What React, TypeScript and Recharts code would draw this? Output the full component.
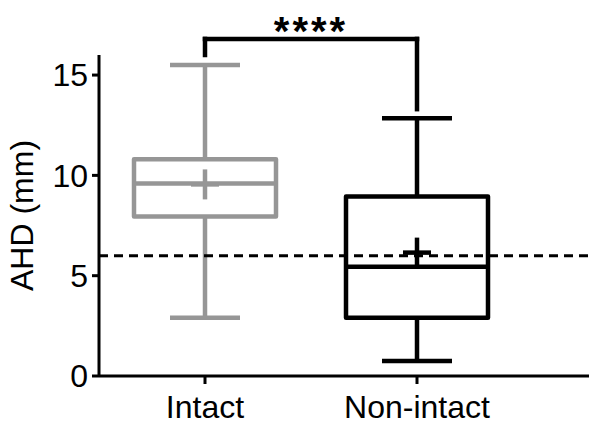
import { Bar, ComposedChart, ReferenceLine, XAxis, YAxis } from "recharts";

const groups = ["Intact", "Non-intact"];
const whiskerMin = [2.9, 0.75];
const q1 = [7.95, 2.9];
const medians = [9.6, 5.45];
const q3 = [10.8, 8.95];
const whiskerMax = [15.5, 12.85];
const means = [9.55, 6.15];
const yTicks = [0, 5, 10, 15];
const cutoff = 6;
const bracketY = 16.8;
const bracketLeftEnd = 16.0;
const bracketRightEnd = 13.3;
const sigLabel = "****";

const boxColors = ["#969696", "#000000"];
const font = "'Liberation Sans', Arial, sans-serif";

const data = groups.map((name, i) => ({
  name,
  range: [whiskerMin[i], whiskerMax[i]],
  min: whiskerMin[i],
  q1: q1[i],
  median: medians[i],
  q3: q3[i],
  max: whiskerMax[i],
  mean: means[i],
  color: boxColors[i],
}));

function BoxShape(props: any) {
  const { x, y, width, height, payload } = props;
  const top = Math.min(y, y + height);
  const bottom = Math.max(y, y + height);
  const ppu = (bottom - top) / (payload.max - payload.min);
  const toY = (v: number) => top + (payload.max - v) * ppu;
  const cx = x + width / 2;
  const sw = 4.5;
  const capHalf = 35;
  const c = payload.color;
  const yMax = toY(payload.max);
  const yMin = toY(payload.min);
  const yQ1 = toY(payload.q1);
  const yQ3 = toY(payload.q3);
  const yMed = toY(payload.median);
  const yMean = toY(payload.mean);
  return (
    <g stroke={c} strokeWidth={sw} fill="none">
      <line x1={cx} x2={cx} y1={yMax} y2={yQ3} />
      <line x1={cx} x2={cx} y1={yQ1} y2={yMin} />
      <line x1={cx - capHalf} x2={cx + capHalf} y1={yMax} y2={yMax} />
      <line x1={cx - capHalf} x2={cx + capHalf} y1={yMin} y2={yMin} />
      <rect x={x} y={yQ3} width={width} height={yQ1 - yQ3} strokeLinejoin="round" />
      <line x1={x} x2={x + width} y1={yMed} y2={yMed} />
      <line x1={cx - 14} x2={cx + 14} y1={yMean} y2={yMean} />
      <line x1={cx} x2={cx} y1={yMean - 15} y2={yMean + 15} />
    </g>
  );
}

export default function App() {
  return (
    <div style={{ position: "absolute", left: 0, top: 0, background: "#fff" }}>
      <ComposedChart
        width={589}
        height={424}
        data={data}
        margin={{ top: 55, right: 0, bottom: 0, left: 0 }}
        barSize={142}
      >
        <XAxis
          dataKey="name"
          height={48}
          padding={{ left: 0, right: 66 }}
          tickSize={8}
          tickMargin={11}
          axisLine={{ stroke: "#000", strokeWidth: 3 }}
          tickLine={{ stroke: "#000", strokeWidth: 3 }}
          tick={{ fontSize: 32, fill: "#000", fontFamily: font }}
        />
        <YAxis
          type="number"
          domain={[0, 16]}
          ticks={yTicks}
          width={99}
          tickSize={7}
          tickMargin={4}
          axisLine={{ stroke: "#000", strokeWidth: 3 }}
          tickLine={{ stroke: "#000", strokeWidth: 3 }}
          tick={{ fontSize: 32, fill: "#000", fontFamily: font }}
          label={{
            value: "AHD (mm)",
            angle: -90,
            position: "insideLeft",
            offset: 22,
            style: { textAnchor: "middle", fontSize: 32, fill: "#000", fontFamily: font },
          }}
        />
        <ReferenceLine y={cutoff} stroke="#000" strokeWidth={3} strokeDasharray="9 6" />
        <Bar dataKey="range" isAnimationActive={false} shape={(p: any) => <BoxShape {...p} />} />
        <ReferenceLine
          ifOverflow="visible"
          stroke="#000"
          strokeWidth={4.5}
          strokeLinecap="square"
          segment={[
            { x: groups[0], y: bracketY },
            { x: groups[1], y: bracketY },
          ]}
          label={{
            value: sigLabel,
            position: "top",
            offset: -6,
            fontSize: 40,
            fontWeight: "bold",
            fill: "#000",
            fontFamily: font,
            letterSpacing: 3,
          }}
        />
        <ReferenceLine
          ifOverflow="visible"
          stroke="#000"
          strokeWidth={4.5}
          strokeLinecap="square"
          segment={[
            { x: groups[0], y: bracketY },
            { x: groups[0], y: bracketLeftEnd },
          ]}
        />
        <ReferenceLine
          ifOverflow="visible"
          stroke="#000"
          strokeWidth={4.5}
          strokeLinecap="square"
          segment={[
            { x: groups[1], y: bracketY },
            { x: groups[1], y: bracketRightEnd },
          ]}
        />
      </ComposedChart>
    </div>
  );
}
